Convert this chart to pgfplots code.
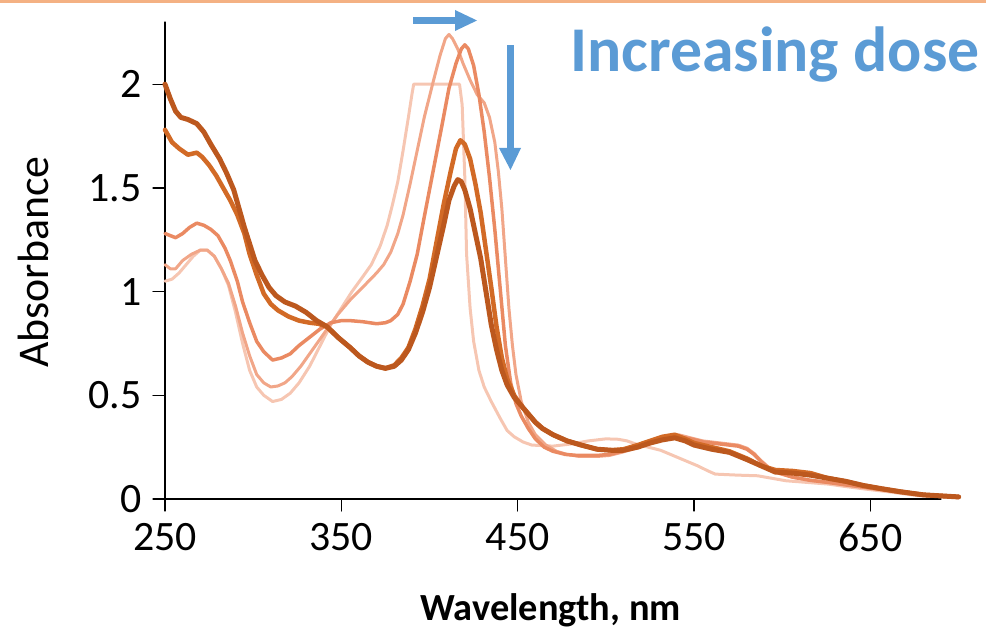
\documentclass[border=0pt]{standalone}
\usepackage{fontspec}
\setmainfont{Carlito}
\usepackage{pgfplots}
\pgfplotsset{compat=1.18}
\definecolor{cA}{RGB}{188,88,30}
\definecolor{cB}{RGB}{210,106,38}
\definecolor{cC}{RGB}{234,138,98}
\definecolor{cD}{RGB}{241,166,136}
\definecolor{cE}{RGB}{246,198,178}
\definecolor{blueann}{RGB}{91,155,213}
\definecolor{topline}{RGB}{244,177,131}
\begin{document}
\begin{tikzpicture}
\useasboundingbox (0bp,0bp) rectangle (986bp,634bp);
\fill[topline] (0bp,631bp) rectangle (986bp,634bp);
\begin{axis}[
  at={(165bp,135bp)}, anchor=south west,
  scale only axis, width=776bp, height=477bp,
  xmin=250, xmax=690, ymin=0, ymax=2.3,
  axis x line=bottom, axis y line=left,
  axis line style={-, line width=1.3bp, black},
  xtick={250,350,450,550,650},
  ytick={0,0.5,1,1.5,2},
  tick align=outside,
  major tick length=12bp,
  tick style={black, line width=1.3bp},
  /pgf/number format/assume math mode=true,
  ticklabel style={font=\fontsize{42}{42}\selectfont},
  xticklabel shift=9bp,
  yticklabel style={xshift=-8bp},
  xlabel={\textbf{Wavelength, nm}},
  xlabel style={font=\fontsize{38.5}{38.5}\selectfont, at={(axis description cs:0.497,-0.2537)}, anchor=base},
  ylabel={Absorbance},
  ylabel style={font=\fontsize{44}{44}\selectfont, at={(axis description cs:-0.17,0.497)}, anchor=center},
  clip=false,
  line join=round, line cap=round,
]
% lightest
\addplot[cE, line width=3bp] coordinates {
(250,1.05)(254,1.06)(258,1.09)(262,1.13)(266,1.17)(270,1.20)(274,1.20)(278,1.17)(282,1.11)(286,1.03)(290,0.90)(294,0.75)(298,0.62)(302,0.54)(306,0.50)(311,0.47)(316,0.48)(321,0.51)(326,0.56)(332,0.64)(338,0.74)(344,0.84)(350,0.92)(356,1.00)(362,1.07)(367,1.13)(372,1.22)(376,1.32)(379,1.42)(382,1.53)(385,1.68)(388,1.84)(390,1.95)(391,2.00)(417,2.00)(418.5,1.90)(420,1.55)(421,1.18)(423,0.92)(425,0.76)(428,0.62)(431,0.54)(435,0.47)(440,0.39)(444,0.33)(448,0.30)(453,0.275)(458,0.26)(470,0.255)(480,0.265)(490,0.28)(500,0.29)(507,0.288)(512,0.28)(517,0.265)(524,0.25)(531,0.235)(538,0.21)(545,0.185)(552,0.16)(558,0.135)(562,0.12)(575,0.115)(586,0.112)(594,0.10)(602,0.088)(614,0.08)(626,0.072)(636,0.06)(647,0.048)(660,0.035)(677,0.016)(700,0.008)
};
\addplot[cD, line width=3bp] coordinates {
(250,1.13)(253,1.11)(256,1.11)(260,1.15)(265,1.18)(270,1.20)(274,1.20)(278,1.17)(282,1.11)(286,1.04)(290,0.93)(294,0.80)(298,0.69)(302,0.60)(306,0.56)(310,0.54)(314,0.545)(318,0.56)(322,0.59)(327,0.64)(332,0.70)(337,0.76)(342,0.82)(348,0.89)(355,0.96)(362,1.02)(370,1.09)(374,1.13)(378,1.19)(382,1.28)(385,1.37)(389,1.52)(393,1.68)(397,1.84)(402,2.01)(406,2.14)(409,2.22)(411,2.24)(413,2.22)(416,2.17)(419,2.10)(423,2.02)(427,1.95)(431,1.91)(434,1.84)(437,1.72)(439,1.58)(441,1.40)(443,1.16)(445,0.92)(447,0.74)(449,0.60)(452,0.47)(456,0.37)(460,0.31)(466,0.26)(472,0.23)(478,0.215)(485,0.205)(495,0.205)(502,0.21)(509,0.225)(517,0.245)(525,0.265)(533,0.29)(541,0.31)(548,0.295)(555,0.28)(565,0.27)(575,0.26)(580,0.245)(584,0.22)(588,0.185)(592,0.155)(598,0.125)(606,0.105)(616,0.09)(626,0.08)(636,0.068)(647,0.056)(657,0.044)(667,0.032)(680,0.02)(700,0.008)
};
\addplot[cC, line width=3.5bp] coordinates {
(250,1.28)(253,1.27)(256,1.26)(260,1.28)(264,1.31)(268,1.33)(272,1.32)(276,1.30)(280,1.27)(284,1.21)(287,1.15)(291,1.05)(294,0.95)(298,0.85)(302,0.76)(306,0.71)(311,0.67)(316,0.68)(321,0.70)(326,0.74)(332,0.78)(338,0.82)(344,0.85)(350,0.86)(355,0.86)(362,0.855)(370,0.845)(375,0.85)(378,0.86)(382,0.89)(385,0.94)(389,1.05)(393,1.18)(397,1.36)(402,1.58)(407,1.80)(411,1.98)(415,2.10)(418,2.17)(420,2.19)(422,2.17)(425,2.09)(428,1.95)(431,1.77)(434,1.55)(437,1.30)(440,1.02)(443,0.74)(446,0.56)(449,0.46)(452,0.40)(456,0.34)(460,0.29)(465,0.25)(470,0.23)(477,0.215)(484,0.21)(495,0.21)(502,0.215)(509,0.23)(517,0.25)(525,0.27)(533,0.29)(541,0.30)(548,0.29)(555,0.275)(565,0.265)(575,0.255)(580,0.24)(584,0.215)(588,0.18)(592,0.15)(598,0.125)(606,0.105)(616,0.09)(626,0.08)(636,0.068)(647,0.056)(657,0.044)(667,0.032)(680,0.02)(700,0.008)
};
\addplot[cB, line width=4.5bp] coordinates {
(250,1.78)(254,1.72)(258,1.69)(263,1.66)(268,1.67)(271,1.65)(275,1.61)(279,1.56)(283,1.50)(287,1.44)(291,1.37)(295,1.28)(298,1.18)(302,1.08)(306,0.99)(310,0.94)(314,0.91)(320,0.88)(326,0.86)(332,0.85)(337,0.845)(342,0.83)(348,0.78)(355,0.73)(360,0.69)(365,0.66)(370,0.64)(375,0.63)(380,0.645)(384,0.68)(388,0.73)(392,0.82)(396,0.93)(400,1.06)(404,1.24)(408,1.42)(412,1.58)(415,1.69)(417.5,1.73)(420,1.71)(423,1.64)(426,1.52)(429,1.38)(432,1.20)(435,1.02)(438,0.83)(441,0.68)(444,0.58)(448,0.50)(452,0.45)(456,0.41)(460,0.37)(464,0.34)(470,0.31)(478,0.28)(486,0.26)(495,0.24)(503,0.235)(510,0.24)(518,0.26)(525,0.28)(532,0.30)(539,0.31)(545,0.29)(550,0.27)(560,0.25)(570,0.23)(580,0.195)(588,0.16)(596,0.14)(606,0.135)(616,0.125)(626,0.10)(636,0.085)(646,0.065)(656,0.05)(667,0.035)(680,0.02)(700,0.01)
};
\addplot[cA, line width=5bp] coordinates {
(250,2.00)(253,1.93)(256,1.87)(259,1.84)(263,1.83)(268,1.81)(272,1.77)(276,1.71)(281,1.64)(285,1.57)(289,1.49)(292,1.40)(295,1.31)(298,1.23)(301,1.15)(305,1.08)(309,1.02)(313,0.98)(318,0.95)(324,0.93)(330,0.90)(336,0.86)(342,0.83)(348,0.78)(355,0.73)(360,0.69)(365,0.66)(370,0.64)(375,0.63)(380,0.64)(384,0.67)(388,0.72)(392,0.80)(396,0.90)(400,1.02)(404,1.17)(408,1.32)(411,1.44)(414,1.51)(416,1.54)(418,1.53)(420,1.49)(423,1.40)(426,1.28)(429,1.16)(432,1.00)(435,0.84)(438,0.72)(441,0.62)(444,0.55)(448,0.49)(452,0.45)(456,0.41)(460,0.37)(464,0.34)(470,0.31)(478,0.28)(486,0.26)(495,0.24)(503,0.235)(510,0.235)(518,0.25)(525,0.27)(532,0.285)(539,0.295)(545,0.28)(550,0.26)(560,0.24)(570,0.225)(580,0.19)(588,0.16)(596,0.13)(606,0.125)(616,0.115)(626,0.10)(636,0.085)(646,0.065)(656,0.05)(667,0.035)(680,0.02)(700,0.01)
};
\end{axis}
% annotation
\node[anchor=base west, inner sep=0pt, text=blueann, font=\fontsize{64}{64}\selectfont\bfseries] at (570bp,562bp) {Increasing dose};
\fill[blueann] (413bp,610bp) rectangle (456bp,617bp);
\fill[blueann] (455bp,603bp) -- (477bp,613.5bp) -- (455bp,624bp) -- cycle;
\fill[blueann] (507bp,589bp) rectangle (514bp,485bp);
\fill[blueann] (499bp,486bp) -- (521bp,486bp) -- (510.5bp,464bp) -- cycle;
\end{tikzpicture}
\end{document}
